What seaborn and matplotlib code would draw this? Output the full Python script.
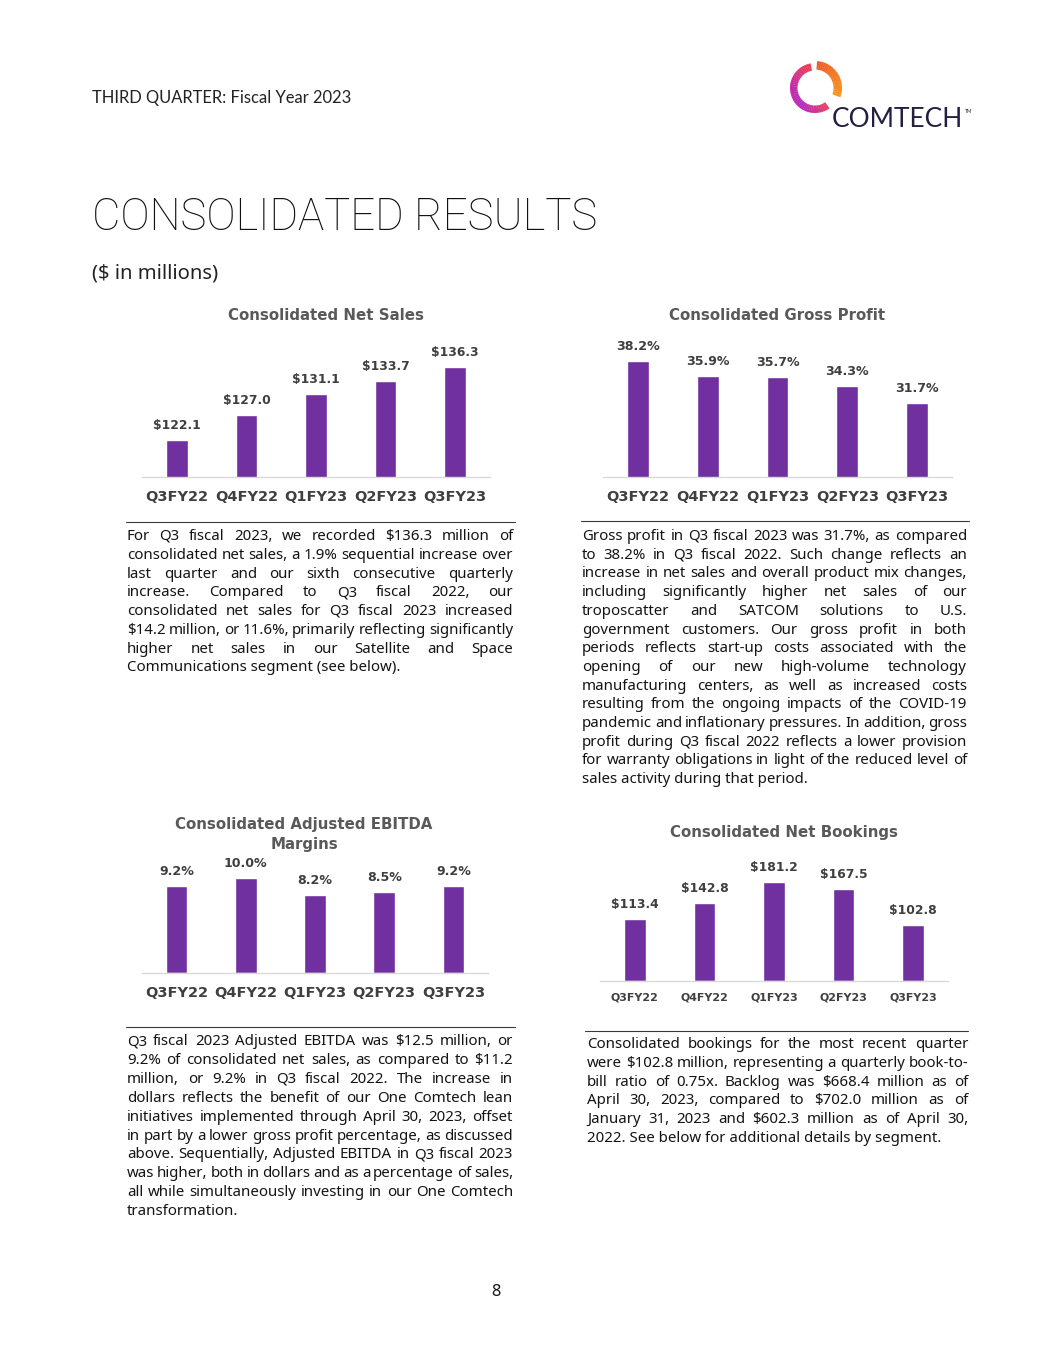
import matplotlib
matplotlib.use("Agg")
import matplotlib.pyplot as plt
from matplotlib.patches import Wedge
from matplotlib.lines import Line2D
import numpy as np
import pandas as pd
import seaborn as sns

W, H = 1055, 1365
PURPLE = "#7030A0"
DARK = "#3f3f3f"
GREY = "#595959"
INK = "#141414"
CHART_FONT = ["DejaVu Sans"]
BODY_FONT = ["Noto Sans", "DejaVu Sans"]

# --- data read from the page ---
QUARTERS = ["Q3FY22", "Q4FY22", "Q1FY23", "Q2FY23", "Q3FY23"]
NET_SALES = [122.1, 127.0, 131.1, 133.7, 136.3]
GROSS_PROFIT = [38.2, 35.9, 35.7, 34.3, 31.7]
EBITDA_MARGIN = [9.2, 10.0, 8.2, 8.5, 9.2]
NET_BOOKINGS = [113.4, 142.8, 181.2, 167.5, 102.8]

TEXT_SALES = [
    "For Q3 fiscal 2023, we recorded $136.3 million of",
    "consolidated net sales, a 1.9% sequential increase over",
    "last quarter and our sixth consecutive quarterly",
    "increase. Compared to Q3 fiscal 2022, our",
    "consolidated net sales for Q3 fiscal 2023 increased",
    "$14.2 million, or 11.6%, primarily reflecting significantly",
    "higher net sales in our Satellite and Space",
    "Communications segment (see below).",
]
TEXT_GROSS = [
    "Gross profit in Q3 fiscal 2023 was 31.7%, as compared",
    "to 38.2% in Q3 fiscal 2022. Such change reflects an",
    "increase in net sales and overall product mix changes,",
    "including significantly higher net sales of our",
    "troposcatter and SATCOM solutions to U.S.",
    "government customers. Our gross profit in both",
    "periods reflects start-up costs associated with the",
    "opening of our new high-volume technology",
    "manufacturing centers, as well as increased costs",
    "resulting from the ongoing impacts of the COVID-19",
    "pandemic and inflationary pressures. In addition, gross",
    "profit during Q3 fiscal 2022 reflects a lower provision",
    "for warranty obligations in light of the reduced level of",
    "sales activity during that period.",
]
TEXT_EBITDA = [
    "Q3 fiscal 2023 Adjusted EBITDA was $12.5 million, or",
    "9.2% of consolidated net sales, as compared to $11.2",
    "million, or 9.2% in Q3 fiscal 2022. The increase in",
    "dollars reflects the benefit of our One Comtech lean",
    "initiatives implemented through April 30, 2023, offset",
    "in part by a lower gross profit percentage, as discussed",
    "above. Sequentially, Adjusted EBITDA in Q3 fiscal 2023",
    "was higher, both in dollars and as a percentage of sales,",
    "all while simultaneously investing in our One Comtech",
    "transformation.",
]
TEXT_BOOKINGS = [
    "Consolidated bookings for the most recent quarter",
    "were $102.8 million, representing a quarterly book-to-",
    "bill ratio of 0.75x. Backlog was $668.4 million as of",
    "April 30, 2023, compared to $702.0 million as of",
    "January 31, 2023 and $602.3 million as of April 30,",
    "2022. See below for additional details by segment.",
]

sns.set_theme(style="white")
plt.rcParams["font.family"] = ["Lato", "DejaVu Sans"]

fig = plt.figure(figsize=(W / 100, H / 100), dpi=100)
fig.patch.set_facecolor("white")
renderer = fig.canvas.get_renderer()


def px(x, y):
    return x / W, 1 - y / H


def width_of(s, size, **kw):
    t = fig.text(0, 0, s, fontsize=size, **kw)
    w = t.get_window_extent(renderer).width
    t.remove()
    return w


def fit(s, target, **kw):
    # font size that makes s about target pixels wide
    return 20 * target / width_of(s, 20, **kw)


def put(x, y, s, size, **kw):
    return fig.text(*px(x, y), s, fontsize=size, **kw)


def hline(x0, x1, y, color="#3a3a3a", lw=0.8):
    fig.add_artist(Line2D([x0 / W, x1 / W], [1 - y / H, 1 - y / H],
                          transform=fig.transFigure, color=color, lw=lw))


def paragraph(lines, x0, x1, y0, dy, size):
    # justified text, last line left aligned
    for i, line in enumerate(lines):
        y = y0 + i * dy
        if i == len(lines) - 1:
            put(x0, y, line, size, va="baseline", color=INK, family=BODY_FONT)
            continue
        words = line.split()
        widths = [width_of(w, size, family=BODY_FONT) for w in words]
        gap = (x1 - x0 - sum(widths)) / (len(words) - 1)
        x = x0
        for w, ww in zip(words, widths):
            put(x, y, w, size, va="baseline", color=INK, family=BODY_FONT)
            x += ww + gap


# --- header ---
put(92, 103, "THIRD QUARTER: Fiscal Year 2023",
    fit("THIRD QUARTER: Fiscal Year 2023", 260), va="baseline", color="#222222")
title_kw = dict(family=["Roboto", "DejaVu Sans"], fontweight="light")
put(92, 230, "CONSOLIDATED RESULTS",
    fit("CONSOLIDATED RESULTS", 505, **title_kw),
    va="baseline", color="#111111", **title_kw)
put(92, 279, "($ in millions)", fit("($ in millions)", 126, family=BODY_FONT),
    va="baseline", color="#222222", family=BODY_FONT)

# --- logo ---
lax = fig.add_axes([780 / W, 1 - 123 / H, 70 / W, 70 / H])
lax.set_xlim(0, 70)
lax.set_ylim(0, 70)
lax.axis("off")
stops = [(0.0, "#ee3d52"), (0.35, "#c62aa8"), (0.65, "#b42cc0"), (1.0, "#ee3f58")]
seg = np.linspace(100, 305, 42)
for a0, a1 in zip(seg[:-1], seg[1:]):
    t = (a0 - 100) / 205
    for (p0, c0), (p1, c1) in zip(stops[:-1], stops[1:]):
        if p0 <= t <= p1:
            f = (t - p0) / (p1 - p0)
            c0 = np.array(matplotlib.colors.to_rgb(c0))
            c1 = np.array(matplotlib.colors.to_rgb(c1))
            col = c0 + (c1 - c0) * f
            break
    lax.add_patch(Wedge((35, 35), 25, a0, a1 + 0.6, width=7.5, color=col, lw=0))
seg = np.linspace(-20, 85, 22)
for a0, a1 in zip(seg[:-1], seg[1:]):
    f = (a0 + 20) / 105
    c0 = np.array(matplotlib.colors.to_rgb("#f7961f"))
    c1 = np.array(matplotlib.colors.to_rgb("#f05a2a"))
    lax.add_patch(Wedge((35, 35), 27, a0, a1 + 0.6, width=8.5,
                        color=c0 + (c1 - c0) * f, lw=0))
put(832, 127, "COMTECH", fit("COMTECH", 131), va="baseline", color="#231f40")
put(965, 113, "TM", 3.5, va="baseline", color="#231f40")


# --- charts ---
bold = dict(family=CHART_FONT, fontweight="bold")


def bar_chart(box, values, ylim, fmt, tick_size, label_size, tick_off):
    l, r, t, b = box
    ax = fig.add_axes([l / W, 1 - b / H, (r - l) / W, (b - t) / H])
    df = pd.DataFrame({"quarter": QUARTERS, "value": values})
    sns.barplot(data=df, x="quarter", y="value", color=PURPLE, width=0.31,
                saturation=1, ax=ax)
    ax.set_xlim(-0.5, 4.5)
    ax.set_ylim(*ylim)
    ax.set_xlabel("")
    ax.set_ylabel("")
    ax.set_yticks([])
    ax.set_xticks([])
    for s in ["top", "left", "right"]:
        ax.spines[s].set_visible(False)
    ax.spines["bottom"].set_color("#d9d9d9")
    ax.spines["bottom"].set_linewidth(1.0)
    ax.set_facecolor("none")
    for i, (q, v) in enumerate(zip(QUARTERS, values)):
        ax.annotate(fmt(v), (i, v), xytext=(0, 14.5), textcoords="offset pixels",
                    ha="center", va="center", fontsize=label_size,
                    color=DARK, annotation_clip=False, **bold)
        ax.annotate(q, (i, 0), xycoords=("data", "axes fraction"),
                    xytext=(0, -tick_off), textcoords="offset pixels",
                    ha="center", va="center", fontsize=tick_size,
                    color=DARK, annotation_clip=False, **bold)
    return ax


tick_big = fit("Q3FY22", 63, **bold)
tick_small = fit("Q3FY22", 48, **bold)
lab_money = fit("$122.1", 48, **bold)
lab_pct = fit("38.2%", 44, **bold)
title_size = fit("Consolidated Net Sales", 196, **bold)

bar_chart((142, 490, 340, 477), NET_SALES, (115, 141.6),
          lambda v: f"${v:.1f}", tick_big, lab_money, 20)
bar_chart((603, 952, 340, 477), GROSS_PROFIT, (20.2, 41.4),
          lambda v: f"{v:.1f}%", tick_big, lab_pct, 20)
bar_chart((142, 488, 860, 973), EBITDA_MARGIN, (0, 11.9),
          lambda v: f"{v:.1f}%", tick_big, lab_pct, 20)
bar_chart((600, 948, 860, 981), NET_BOOKINGS, (0, 220.8),
          lambda v: f"${v:.1f}", tick_small, lab_money, 17)

for x, y, s in [(326, 316, "Consolidated Net Sales"),
                (777, 316, "Consolidated Gross Profit"),
                (304, 825, "Consolidated Adjusted EBITDA"),
                (304, 845, "Margins"),
                (784, 832, "Consolidated Net Bookings")]:
    put(x, y, s, title_size, ha="center", va="center", color=GREY, **bold)

# --- rules and paragraphs ---
hline(126, 515, 522)
hline(581, 969, 521)
hline(126, 515, 1027)
hline(585, 968, 1031)

body = fit(TEXT_SALES[-1], 273, family=BODY_FONT)
paragraph(TEXT_SALES, 127, 513, 540, 18.75, body)
paragraph(TEXT_GROSS, 582, 967, 540, 18.7, body)
paragraph(TEXT_EBITDA, 127, 513, 1045, 18.9, body)
paragraph(TEXT_BOOKINGS, 587, 968, 1048, 18.8, body)

put(496, 1292, "8", body * 1.1, ha="center", va="center", color=INK,
    family=BODY_FONT)

fig.savefig("out.png", dpi=100, facecolor="white")
